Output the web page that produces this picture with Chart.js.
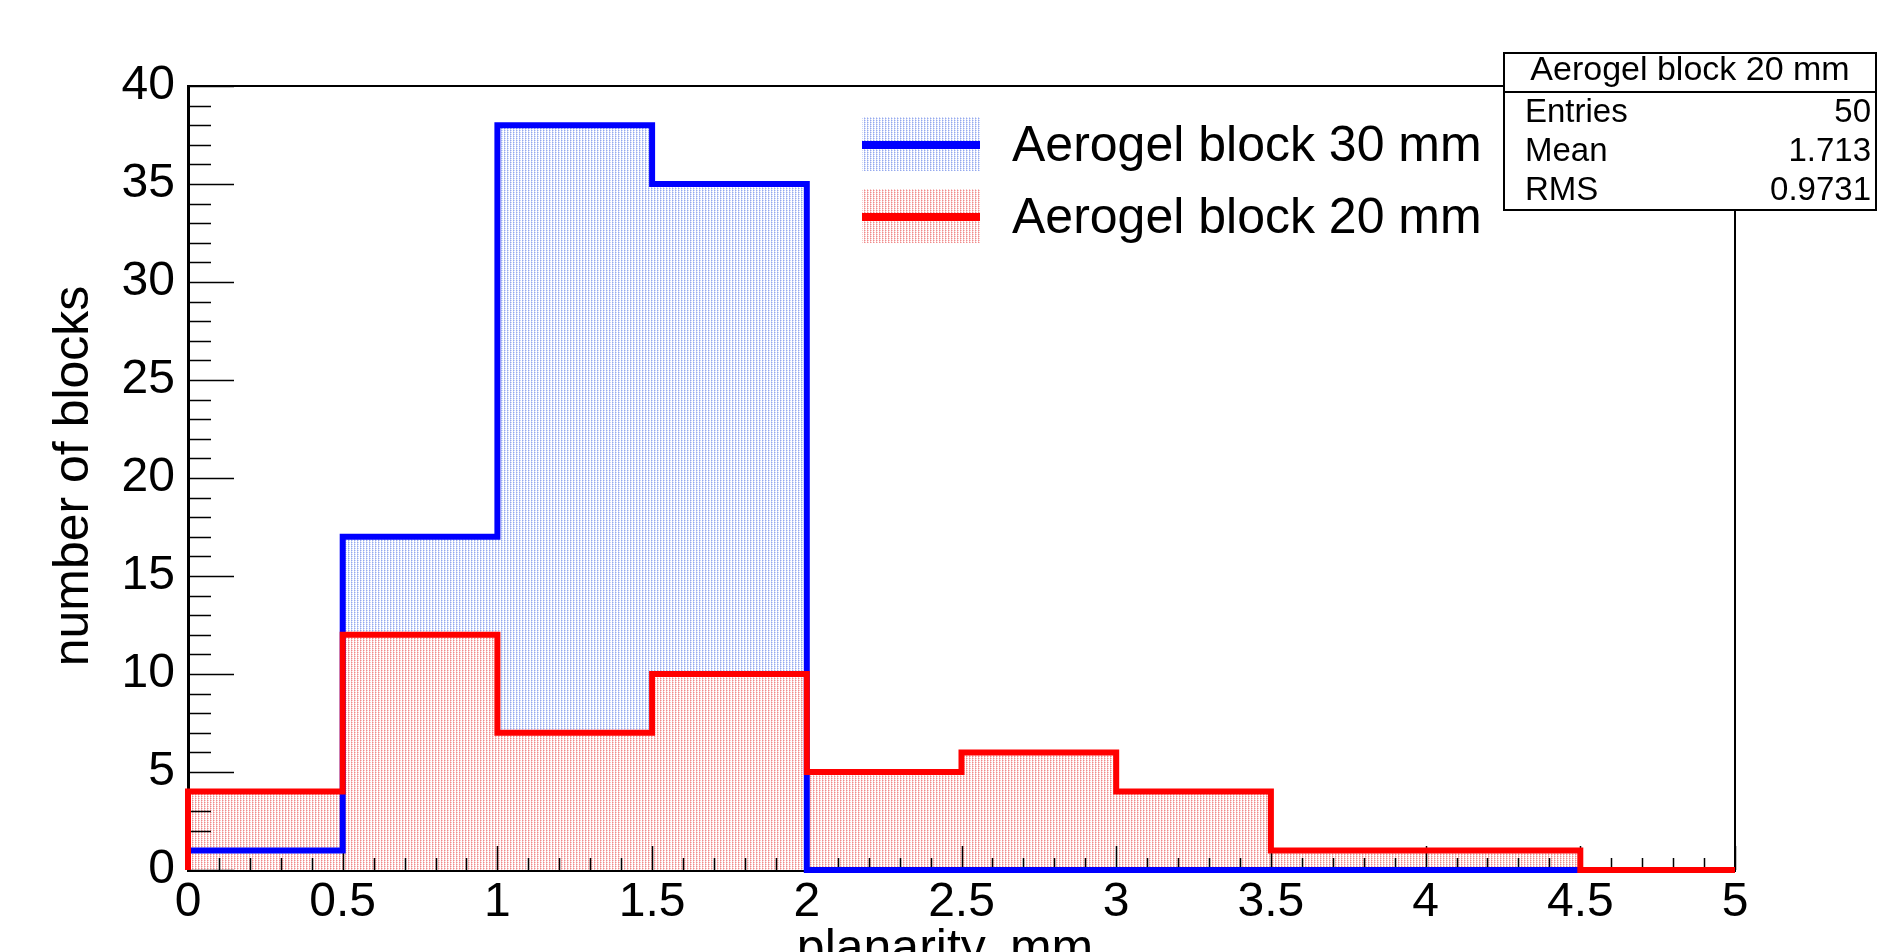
<!DOCTYPE html>
<html>
<head>
<meta charset="utf-8">
<script src="https://cdn.jsdelivr.net/npm/chart.js@4.4.1/dist/chart.umd.min.js"></script>
<style>
  html, body { margin: 0; padding: 0; background: #fff; }
  canvas { display: block; }
</style>
</head>
<body>
<canvas id="histo" width="1878" height="952"></canvas>
<script>
(() => {
  'use strict'

// bin edges (planarity, mm) and counts per bin
var binEdges = [0, 0.5, 1, 1.5, 2, 2.5, 3, 3.5, 4, 4.5, 5];
var block30 = [1, 17, 38, 35, 0, 0, 0, 0, 0, 0];
var block20 = [4, 12, 7, 10, 5, 6, 4, 1, 1, 0];
var seriesNames = ['Aerogel block 30 mm', 'Aerogel block 20 mm'];

// stats box of the 20 mm histogram
var statsTitle = 'Aerogel block 20 mm';
var statsNames = ['Entries', 'Mean', 'RMS'];
var statsValues = ['50', '1.713', '0.9731'];

var FONT = "'Liberation Sans', Arial, Helvetica, sans-serif";

var canvas = document.getElementById('histo');
var ctx = canvas.getContext('2d');

// ROOT-like dotted fill, opaque so the upper histogram hides the lower fill
function dots(dark, light) {
  var c = document.createElement('canvas');
  c.width = 3; c.height = 2;
  var p = c.getContext('2d');
  p.fillStyle = '#fff';
  p.fillRect(0, 0, 3, 2);
  p.fillStyle = dark;
  p.fillRect(0, 0, 1, 1);
  p.fillStyle = light;
  p.fillRect(1, 0, 1, 1);
  p.fillRect(0, 1, 1, 1);
  return ctx.createPattern(c, 'repeat');
}
var blueFill = dots('rgb(150,170,238)', 'rgb(205,215,248)');
var redFill = dots('rgb(240,140,140)', 'rgb(248,200,200)');

// step points: start at 0, one point per bin low edge, close at last edge
function steps(counts) {
  var pts = [{ x: binEdges[0], y: 0 }];
  for (var i = 0; i < counts.length; i++) pts.push({ x: binEdges[i], y: counts[i] });
  pts.push({ x: binEdges[binEdges.length - 1], y: counts[counts.length - 1] });
  return pts;
}

var rootDecor = {
  id: 'rootDecor',
  beforeDatasetsDraw: function (chart) {
    var c = chart.ctx, a = chart.chartArea;
    var xs = chart.scales.x, ys = chart.scales.y;
    c.save();
    c.strokeStyle = '#000';
    c.lineWidth = 1.5;
    c.beginPath();
    // y ticks, inward
    for (var v = 0; v <= 40; v++) {
      var py = Math.round(ys.getPixelForValue(v)) + 0.5;
      var len = v % 5 === 0 ? 46 : 23;
      c.moveTo(a.left, py); c.lineTo(a.left + len, py);
    }
    // x ticks, inward
    for (var k = 0; k <= 50; k++) {
      var px = Math.round(xs.getPixelForValue(k / 10)) + 0.5;
      var l2 = k % 5 === 0 ? 24 : 12;
      c.moveTo(px, a.bottom); c.lineTo(px, a.bottom - l2);
    }
    c.stroke();
    // frame top / right
    c.lineWidth = 2;
    c.beginPath();
    c.moveTo(a.left, a.top); c.lineTo(a.right, a.top); c.lineTo(a.right, a.bottom);
    c.stroke();
    c.restore();
  },
  afterDraw: function (chart) {
    var c = chart.ctx;
    c.save();
    c.fillStyle = '#000';

    // axis titles
    c.font = '50px ' + FONT;
    c.textAlign = 'center';
    c.textBaseline = 'alphabetic';
    c.fillText('planarity, mm', 945, 964);
    c.save();
    c.translate(88, 476);
    c.rotate(-Math.PI / 2);
    c.fillText('number of blocks', 0, 0);
    c.restore();

    // legend
    var entries = [
      { y: 145, line: '#0000ff', fill: blueFill },
      { y: 217, line: '#ff0000', fill: redFill }
    ];
    entries.forEach(function (e, i) {
      c.fillStyle = e.fill;
      c.fillRect(862, e.y - 28, 118, 54);
      c.fillStyle = e.line;
      c.fillRect(862, e.y - 4, 118, 8);
      c.fillStyle = '#000';
      c.font = '50px ' + FONT;
      c.textAlign = 'left';
      c.textBaseline = 'middle';
      c.fillText(seriesNames[i], 1012, e.y + 2);
    });

    // stats box
    var bx = 1504, by = 53, bw = 372, bh = 157;
    c.fillStyle = '#fff';
    c.fillRect(bx, by, bw, bh);
    c.strokeStyle = '#000';
    c.lineWidth = 2;
    c.strokeRect(bx, by, bw, bh);
    c.beginPath();
    c.moveTo(bx, 92); c.lineTo(bx + bw, 92);
    c.stroke();
    c.fillStyle = '#000';
    c.font = '34px ' + FONT;
    c.textAlign = 'center';
    c.textBaseline = 'middle';
    c.fillText(statsTitle, bx + bw / 2, 71);
    c.font = '33px ' + FONT;
    var rowsY = [113, 152, 191];
    for (var r = 0; r < statsNames.length; r++) {
      c.textAlign = 'left';
      c.fillText(statsNames[r], 1525, rowsY[r]);
      c.textAlign = 'right';
      c.fillText(statsValues[r], 1871, rowsY[r]);
    }
    c.restore();
  }
};

var histChart = new Chart(ctx, {
  type: 'line',
  data: {
    datasets: [{
      label: seriesNames[0],
      data: steps(block30),
      stepped: 'before',
      borderColor: '#0000ff',
      borderWidth: 6,
      backgroundColor: blueFill,
      fill: 'origin',
      pointRadius: 0,
      clip: false,
      order: 2
    }, {
      label: seriesNames[1],
      data: steps(block20),
      stepped: 'before',
      borderColor: '#ff0000',
      borderWidth: 6,
      backgroundColor: redFill,
      fill: 'origin',
      pointRadius: 0,
      clip: false,
      order: 1
    }]
  },
  options: {
    responsive: false,
    animation: false,
    devicePixelRatio: 1,
    layout: { padding: { left: 0, right: 143, top: 86, bottom: 0 } },
    plugins: {
      legend: { display: false },
      tooltip: { enabled: false },
      filler: { drawTime: 'beforeDatasetsDraw' }
    },
    scales: {
      x: {
        type: 'linear',
        min: 0,
        max: 5,
        afterFit: function (s) { s.height = 82; },
        grid: { display: false, drawTicks: false },
        border: { display: true, color: '#000', width: 3 },
        ticks: {
          stepSize: 0.5,
          padding: 4,
          color: '#000',
          font: { family: FONT, size: 48 },
          maxRotation: 0,
          autoSkip: false,
          callback: function (v) { return String(v); }
        }
      },
      y: {
        min: 0,
        max: 40,
        afterFit: function (s) { s.width = 188; },
        grid: { display: false, drawTicks: false },
        border: { display: true, color: '#000', width: 3 },
        ticks: {
          stepSize: 5,
          padding: 13,
          color: '#000',
          font: { family: FONT, size: 48 }
        }
      }
    }
  },
  plugins: [rootDecor]
});
})()
</script>
</body>
</html>
